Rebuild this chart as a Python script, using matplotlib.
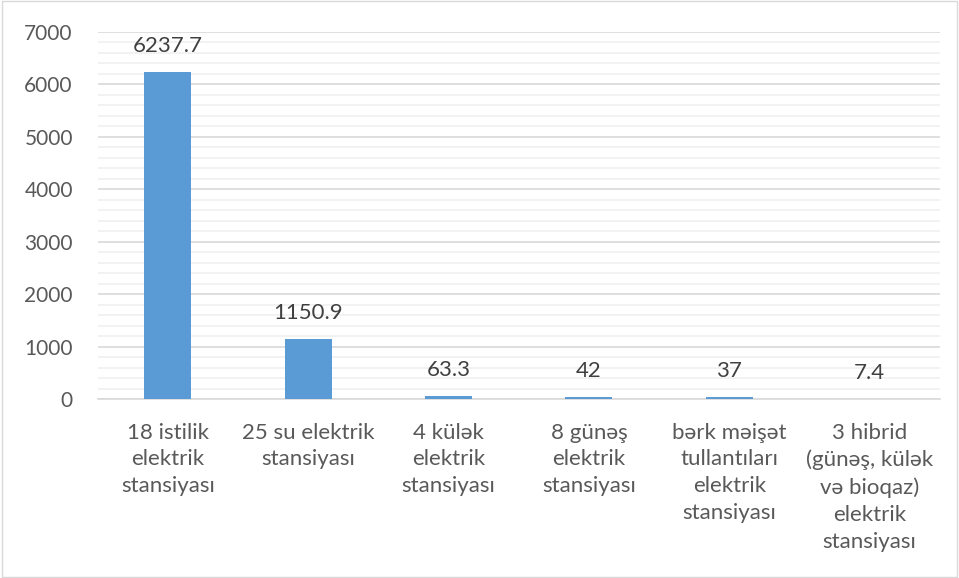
import matplotlib
matplotlib.use("Agg")
import matplotlib.pyplot as plt
from matplotlib.ticker import MultipleLocator
from matplotlib.patches import Rectangle

categories = [
    "18 istilik\nelektrik\nstansiyası",
    "25 su elektrik\nstansiyası",
    "4 külək\nelektrik\nstansiyası",
    "8 günəş\nelektrik\nstansiyası",
    "bərk məişət\ntullantıları\nelektrik\nstansiyası",
    "3 hibrid\n(günəş, külək\nvə bioqaz)\nelektrik\nstansiyası",
]
values = [6237.7, 1150.9, 63.3, 42, 37, 7.4]
labels = ["6237.7", "1150.9", "63.3", "42", "37", "7.4"]

plt.rcParams['font.family'] = ['Lato', 'DejaVu Sans']
text_color = "#595959"

fig = plt.figure(figsize=(9.59, 5.78), dpi=100)
ax = fig.add_axes([0.102, 0.3097, 0.878, 0.635])

x = list(range(len(categories)))
ax.bar(x, values, width=0.335, color="#5b9bd5", zorder=3)
for xi, v, lab in zip(x, values, labels):
    ax.text(xi, v + 300, lab, ha="center", va="bottom", fontsize=16, color="#404040")

ax.set_ylim(0, 7000)
ax.set_xlim(-0.5, len(categories) - 0.5)
ax.yaxis.set_major_locator(MultipleLocator(1000))
ax.yaxis.set_minor_locator(MultipleLocator(200))
ax.grid(axis="y", which="major", color="#d9d9d9", linewidth=1.2, zorder=0)
ax.grid(axis="y", which="minor", color="#f0f0f0", linewidth=1.2, zorder=0)
for s in ["top", "right", "left"]:
    ax.spines[s].set_visible(False)
ax.spines["bottom"].set_color("#d9d9d9")
ax.spines["bottom"].set_linewidth(1.2)
ax.tick_params(axis="both", which="both", length=0, colors=text_color, labelsize=15)
ax.tick_params(axis="y", pad=18)
ax.tick_params(axis="x", pad=17, labelsize=16)
ax.set_xticks(x)
ax.set_xticklabels(categories, linespacing=1.43)

fig.patches.append(Rectangle((0.002, 0.002), 0.996, 0.996, transform=fig.transFigure,
                             fill=False, edgecolor="#d9d9d9", linewidth=1))
fig.savefig("out.png", dpi=100)
